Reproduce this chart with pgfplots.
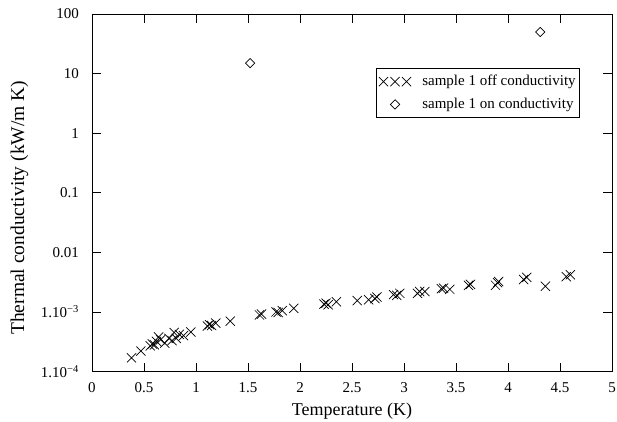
\documentclass[border=0pt]{standalone}
\usepackage{pgfplots}
\pgfplotsset{compat=1.18}
\usepackage{fontspec}
\setmainfont{Liberation Serif}
\pgfplotsset{
  threex/.style={legend image code/.code={\draw[##1, only marks] plot coordinates {(4.6bp,0bp) (16.1bp,0bp) (27.6bp,0bp)}; \path (0bp,0bp) (41bp,0bp);}},
  onediamond/.style={legend image code/.code={\draw[##1, only marks] plot coordinates {(16.1bp,0bp)}; \path (0bp,0bp) (41bp,0bp);}},
}
\begin{document}
\fontsize{15bp}{18bp}\selectfont
\begin{tikzpicture}
\begin{axis}[
  scale only axis,
  width=520bp, height=357.5bp,
  xmin=0, xmax=5,
  ymode=log, ymin=1e-4, ymax=100,
  xtick={0,0.5,1,1.5,2,2.5,3,3.5,4,4.5,5},
  xticklabels={0,0.5,1,1.5,2,2.5,3,3.5,4,4.5,5},
  ytick={1e-4,1e-3,0.01,0.1,1,10,100},
  yticklabels={1.10\textsuperscript{−4},1.10\textsuperscript{−3},0.01,0.1,1,10,100},
  yminorticks=false,
  tick align=inside,
  xtick pos=both, ytick pos=both,
  xticklabel pos=lower, yticklabel pos=left,
  major tick length=9bp,
  tick style={black, line width=0.6bp},
  axis line style={line width=0.8bp},
  ticklabel style={font=\fontsize{15bp}{18bp}\selectfont},
  xticklabel style={yshift=-6bp},
  yticklabel style={xshift=-8bp},
  xlabel={Temperature (K)},
  ylabel={Thermal conductivity (kW/m K)},
  xlabel style={font=\fontsize{18bp}{21bp}\selectfont, at={(axis description cs:0.5,0)}, anchor=center, yshift=-40bp},
  ylabel style={font=\fontsize{19.5bp}{23bp}\selectfont, at={(axis description cs:0,0.5)}, anchor=center, yshift=72.5bp, xshift=-15bp},
  legend style={at={(0.9385,0.849)}, anchor=north east, draw=black, line width=0.6bp,
    font=\fontsize{15bp}{18bp}\selectfont, row sep=6bp, inner xsep=2bp, inner ysep=5bp},
  legend cell align=left,
]
\addplot[only marks, mark=x, mark size=6.5bp, line width=0.7bp, black, threex]
  coordinates {
(0.38,1.7e-4) (0.47,2.2e-4) (0.56,2.7e-4) (0.58,2.9e-4) (0.60,2.8e-4)
(0.62,3.2e-4) (0.64,3.8e-4) (0.66,3.4e-4) (0.70,3.0e-4) (0.74,3.6e-4)
(0.77,3.3e-4) (0.79,4.5e-4) (0.81,3.6e-4) (0.84,4.2e-4) (0.88,4.0e-4)
(0.95,4.6e-4) (1.11,5.8e-4) (1.13,6.1e-4) (1.15,5.9e-4) (1.19,6.5e-4)
(1.33,7.0e-4) (1.61,8.9e-4) (1.63,9.2e-4) (1.77,1.0e-3) (1.79,9.8e-4)
(1.83,1.05e-3) (1.94,1.15e-3) (2.23,1.35e-3) (2.25,1.4e-3) (2.27,1.32e-3)
(2.35,1.48e-3) (2.55,1.55e-3) (2.66,1.6e-3) (2.72,1.68e-3) (2.74,1.78e-3)
(2.90,1.95e-3) (2.93,1.9e-3) (2.96,2.05e-3) (3.13,2.05e-3) (3.15,2.2e-3)
(3.20,2.2e-3) (3.36,2.45e-3) (3.38,2.5e-3) (3.44,2.4e-3) (3.62,2.8e-3)
(3.64,2.9e-3) (3.88,2.8e-3) (3.90,3.1e-3) (3.91,3.25e-3) (4.15,3.5e-3)
(4.18,3.8e-3) (4.36,2.7e-3) (4.56,3.9e-3) (4.60,4.2e-3)
  };
\addlegendentry{sample 1 off conductivity}
\addplot[only marks, mark=square, mark size=3.3bp, mark options={rotate=45}, line width=0.7bp, black, onediamond]
  coordinates {(1.52,15) (4.31,50)};
\addlegendentry{sample 1 on conductivity}
\end{axis}
\pgfresetboundingbox
\path[use as bounding box] (-92bp,-50.5bp) rectangle (525bp,371.5bp);
\end{tikzpicture}
\end{document}
